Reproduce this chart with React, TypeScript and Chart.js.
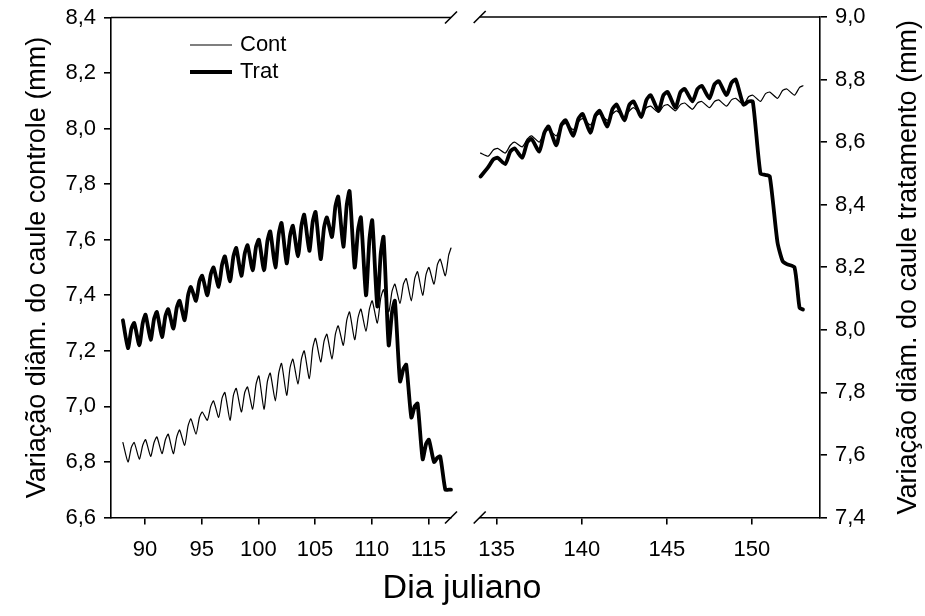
import React, { useEffect, useRef } from 'react';
import { Chart, registerables } from 'chart.js';

Chart.register(...registerables);

const FONT = "'Liberation Sans', Arial, Helvetica, sans-serif";
const BLACK = '#000';

// ---------- Left panel (controle axis), one cycle per day: peak, mid-day dip, evening recovery ----------
const leftDays = [88, 89, 90, 91, 92, 93, 94, 95, 96, 97, 98, 99, 100, 101, 102, 103, 104, 105, 106, 107, 108, 109, 110, 111, 112, 113, 114, 115, 116];
const contLeftPeak = [6.87, 6.87, 6.88, 6.89, 6.90, 6.915, 6.955, 6.98, 7.02, 7.05, 7.065, 7.07, 7.11, 7.12, 7.155, 7.17, 7.20, 7.245, 7.26, 7.29, 7.34, 7.35, 7.38, 7.42, 7.44, 7.46, 7.485, 7.50, 7.53];
const contLeftDip = [6.80, 6.81, 6.82, 6.83, 6.83, 6.86, 6.90, 6.95, 6.96, 6.95, 6.98, 6.99, 6.99, 7.02, 7.04, 7.08, 7.10, 7.16, 7.17, 7.22, 7.24, 7.27, 7.30, 7.34, 7.37, 7.38, 7.40, 7.44, 7.47];
const contLeftRec = [6.853, 6.86, 6.87, 6.88, 6.89, 6.93, 6.96, 7.00, 7.03, 7.04, 7.05, 7.08, 7.09, 7.12, 7.14, 7.17, 7.21, 7.235, 7.26, 7.31, 7.32, 7.35, 7.39, 7.415, 7.44, 7.46, 7.475, 7.51, 7.545];
const contLeftTailX = [117.0];
const contLeftTailY = [7.57];

const tratLeftPeak = [7.31, 7.30, 7.33, 7.34, 7.35, 7.38, 7.43, 7.47, 7.50, 7.54, 7.57, 7.58, 7.60, 7.63, 7.66, 7.65, 7.69, 7.70, 7.68, 7.755, 7.775, 7.68, 7.67, 7.61, 7.38, 7.15, 7.01, 6.88, 6.82];
const tratLeftDip = [7.21, 7.22, 7.24, 7.25, 7.28, 7.31, 7.38, 7.40, 7.43, 7.45, 7.47, 7.49, 7.49, 7.50, 7.515, 7.54, 7.56, 7.53, 7.61, 7.575, 7.50, 7.40, 7.36, 7.22, 7.09, 6.96, 6.81, 6.80, 6.70];
const tratLeftRec = [7.28, 7.30, 7.315, 7.325, 7.355, 7.40, 7.45, 7.475, 7.51, 7.54, 7.55, 7.575, 7.595, 7.62, 7.615, 7.65, 7.665, 7.645, 7.72, 7.725, 7.635, 7.60, 7.55, 7.34, 7.135, 7.00, 6.865, 6.815, 6.70];
const tratLeftTailX = [117.0];
const tratLeftTailY = [6.70];

// ---------- Right panel (tratamento axis) ----------
const rightDays = [134, 135, 136, 137, 138, 139, 140, 141, 142, 143, 144, 145, 146, 147, 148, 149, 150, 151, 152];
const contRightPeak = [8.565, 8.58, 8.60, 8.62, 8.64, 8.66, 8.675, 8.69, 8.70, 8.71, 8.715, 8.72, 8.725, 8.73, 8.735, 8.74, 8.75, 8.76, 8.77];
const contRightDip = [8.555, 8.565, 8.585, 8.60, 8.62, 8.64, 8.655, 8.67, 8.68, 8.69, 8.695, 8.70, 8.705, 8.71, 8.715, 8.72, 8.73, 8.74, 8.75];
const contRightRec = [8.575, 8.59, 8.61, 8.63, 8.65, 8.665, 8.68, 8.69, 8.70, 8.71, 8.715, 8.72, 8.725, 8.73, 8.735, 8.745, 8.755, 8.765, 8.775];
const contRightTailX = [153.0];
const contRightTailY = [8.78];

const tratRightPeak = [8.49, 8.55, 8.58, 8.61, 8.65, 8.67, 8.69, 8.70, 8.72, 8.73, 8.75, 8.76, 8.77, 8.78, 8.795, 8.80, 8.73, 8.49, 8.21];
const tratRightDip = [8.52, 8.53, 8.55, 8.57, 8.59, 8.62, 8.63, 8.65, 8.67, 8.68, 8.70, 8.71, 8.73, 8.74, 8.75, 8.72, 8.50, 8.28, 8.20];
const tratRightRec = [8.545, 8.57, 8.60, 8.63, 8.655, 8.675, 8.685, 8.705, 8.72, 8.735, 8.75, 8.76, 8.77, 8.785, 8.79, 8.73, 8.495, 8.22, 8.07];
const tratRightTailX = [153.0];
const tratRightTailY = [8.065];

// ---------- Ticks ----------
const leftXTicks = [90, 95, 100, 105, 110, 115];
const rightXTicks = [135, 140, 145, 150];
const leftYTicks = [6.6, 6.8, 7.0, 7.2, 7.4, 7.6, 7.8, 8.0, 8.2, 8.4];
const rightYTicks = [7.4, 7.6, 7.8, 8.0, 8.2, 8.4, 8.6, 8.8, 9.0];

const seriesNames = ['Cont', 'Trat'];
const leftTitle = 'Variação diâm. do caule controle (mm)';
const rightTitle = 'Variação diâm. do caule tratamento (mm)';
const xTitle = 'Dia juliano';

function buildSeries(days: number[], peaks: number[], dips: number[], recs: number[], tailX: number[], tailY: number[]) {
  const pts: { x: number; y: number }[] = [];
  days.forEach((d, i) => {
    pts.push({ x: d + 0.05, y: peaks[i] });
    pts.push({ x: d + 0.5, y: dips[i] });
    pts.push({ x: d + 0.8, y: recs[i] });
  });
  tailX.forEach((x, i) => pts.push({ x, y: tailY[i] }));
  return pts;
}

const fmt = (v: number) => v.toFixed(1).replace('.', ',');

const W_A = 466;
const W_B = 459;
const H = 616;
const PLOT_TOP = 17.5;
const PLOT_BOTTOM = 517.5;
const A_RIGHT = 451;
const B_LEFT_PAGE = 479.7;
const B_RIGHT_PAGE = 820;

const TICK_FONT = { family: FONT, size: 22 };
const TITLE_SIZE = 27;
const AXIS_W = 1.6;

function slash(ctx: CanvasRenderingContext2D, x: number, y: number) {
  ctx.beginPath();
  ctx.moveTo(x - 6, y + 6);
  ctx.lineTo(x + 6, y - 6);
  ctx.stroke();
}

const frameA = {
  id: 'frameA',
  afterDraw(chart: any) {
    const { ctx, chartArea } = chart;
    ctx.save();
    ctx.strokeStyle = BLACK;
    ctx.lineWidth = AXIS_W;
    ctx.beginPath();
    ctx.moveTo(chartArea.left, chartArea.top);
    ctx.lineTo(chartArea.right, chartArea.top);
    ctx.stroke();
    slash(ctx, chartArea.right, chartArea.top);
    slash(ctx, chartArea.right, chartArea.bottom);
    // legend
    const lx0 = 190, lx1 = 232, tx = 240;
    const rows = [{ y: 45, w: 1.2 }, { y: 72, w: 3.8 }];
    ctx.font = `22px ${FONT}`;
    ctx.fillStyle = BLACK;
    ctx.textAlign = 'left';
    ctx.textBaseline = 'middle';
    rows.forEach((r, i) => {
      ctx.lineWidth = r.w;
      ctx.beginPath();
      ctx.moveTo(lx0, r.y);
      ctx.lineTo(lx1, r.y);
      ctx.stroke();
      ctx.fillText(seriesNames[i], tx, r.y);
    });
    ctx.restore();
  },
};

const frameB = {
  id: 'frameB',
  afterDraw(chart: any) {
    const { ctx, chartArea } = chart;
    ctx.save();
    ctx.strokeStyle = BLACK;
    ctx.lineWidth = AXIS_W;
    ctx.beginPath();
    ctx.moveTo(chartArea.left, chartArea.top);
    ctx.lineTo(chartArea.right, chartArea.top);
    ctx.stroke();
    slash(ctx, chartArea.left, chartArea.top);
    slash(ctx, chartArea.left, chartArea.bottom);
    // right axis title, reading bottom-to-top
    ctx.translate(909 - (925 - W_B), (chartArea.top + chartArea.bottom) / 2);
    ctx.rotate(-Math.PI / 2);
    ctx.font = `${TITLE_SIZE}px ${FONT}`;
    ctx.fillStyle = BLACK;
    ctx.textAlign = 'center';
    ctx.textBaseline = 'middle';
    ctx.fillText(rightTitle, 0, 0);
    ctx.restore();
  },
};

function xScale(min: number, max: number, ticks: number[]) {
  return {
    type: 'linear',
    min,
    max,
    grid: { drawOnChartArea: false, drawTicks: true, tickLength: 7, color: BLACK, lineWidth: AXIS_W },
    border: { display: true, color: BLACK, width: AXIS_W },
    ticks: { font: TICK_FONT, color: BLACK, padding: 12, maxRotation: 0, autoSkip: false, callback: (v: any) => String(v) },
    afterBuildTicks: (s: any) => {
      s.ticks = ticks.map((value) => ({ value }));
    },
    afterFit: (s: any) => {
      s.height = H - PLOT_BOTTOM;
      s.paddingLeft = 0;
      s.paddingRight = 0;
    },
  };
}

function yScale(min: number, max: number, ticks: number[], position: string, width: number, title?: any) {
  return {
    type: 'linear',
    position,
    min,
    max,
    grid: { drawOnChartArea: false, drawTicks: true, tickLength: 7, color: BLACK, lineWidth: AXIS_W },
    border: { display: true, color: BLACK, width: AXIS_W },
    ticks: { font: TICK_FONT, color: BLACK, padding: 8, autoSkip: false, callback: (v: any) => fmt(Number(v)) },
    title: title || { display: false },
    afterBuildTicks: (s: any) => {
      s.ticks = ticks.map((value) => ({ value }));
    },
    afterFit: (s: any) => {
      s.width = width;
      s.paddingTop = 0;
      s.paddingBottom = 0;
    },
  };
}

function ds(label: string, data: any[], width: number) {
  return {
    label,
    data,
    borderColor: BLACK,
    backgroundColor: BLACK,
    borderWidth: width,
    borderJoinStyle: 'round',
    borderCapStyle: 'round',
    pointRadius: 0,
    tension: 0.2,
    fill: false,
    clip: 8,
  };
}

export default function App() {
  const refA = useRef<HTMLCanvasElement>(null);
  const refB = useRef<HTMLCanvasElement>(null);

  useEffect(() => {
    const contLeft = buildSeries(leftDays, contLeftPeak, contLeftDip, contLeftRec, contLeftTailX, contLeftTailY);
    const tratLeft = buildSeries(leftDays, tratLeftPeak, tratLeftDip, tratLeftRec, tratLeftTailX, tratLeftTailY);
    const contRight = buildSeries(rightDays, contRightPeak, contRightDip, contRightRec, contRightTailX, contRightTailY);
    const tratRight = buildSeries(rightDays, tratRightPeak, tratRightDip, tratRightRec, tratRightTailX, tratRightTailY);

    const chartA = new Chart(refA.current as HTMLCanvasElement, {
      type: 'line',
      data: { datasets: [ds(seriesNames[0], contLeft, 1.2), ds(seriesNames[1], tratLeft, 3.8)] as any },
      options: {
        animation: false,
        responsive: false,
        devicePixelRatio: 1,
        events: [],
        layout: { padding: { top: PLOT_TOP, right: W_A - A_RIGHT, left: 0, bottom: 0 } },
        plugins: { legend: { display: false }, tooltip: { enabled: false } },
        scales: {
          x: xScale(87, 117, leftXTicks) as any,
          y: yScale(6.6, 8.4, leftYTicks, 'left', 111, {
            display: true,
            text: leftTitle,
            color: BLACK,
            font: { family: FONT, size: TITLE_SIZE },
            padding: { top: 21, bottom: 0 },
          }) as any,
        },
      },
      plugins: [frameA],
    });

    const chartB = new Chart(refB.current as HTMLCanvasElement, {
      type: 'line',
      data: { datasets: [ds(seriesNames[0], contRight, 1.2), ds(seriesNames[1], tratRight, 3.8)] as any },
      options: {
        animation: false,
        responsive: false,
        devicePixelRatio: 1,
        events: [],
        layout: { padding: { top: PLOT_TOP - 0.5, right: 0, left: B_LEFT_PAGE - (925 - W_B), bottom: 0 } },
        plugins: { legend: { display: false }, tooltip: { enabled: false } },
        scales: {
          x: xScale(134, 154, rightXTicks) as any,
          y: yScale(7.4, 9.0, rightYTicks, 'right', W_B - (B_RIGHT_PAGE - (925 - W_B))) as any,
        },
      },
      plugins: [frameB],
    });

    return () => {
      chartA.destroy();
      chartB.destroy();
    };
  }, []);

  return (
    <div style={{ position: 'absolute', left: 0, top: 0, width: 925, height: H, background: '#fff', overflow: 'hidden' }}>
      <canvas ref={refA} width={W_A} height={H} style={{ position: 'absolute', left: 0, top: 0, width: W_A, height: H }} />
      <canvas ref={refB} width={W_B} height={H} style={{ position: 'absolute', left: 925 - W_B, top: 0, width: W_B, height: H }} />
      <div
        style={{
          position: 'absolute',
          left: 0,
          width: 924,
          top: 567,
          textAlign: 'center',
          fontFamily: FONT,
          fontSize: 34,
          lineHeight: '38px',
          color: BLACK,
        }}
      >
        {xTitle}
      </div>
    </div>
  );
}
